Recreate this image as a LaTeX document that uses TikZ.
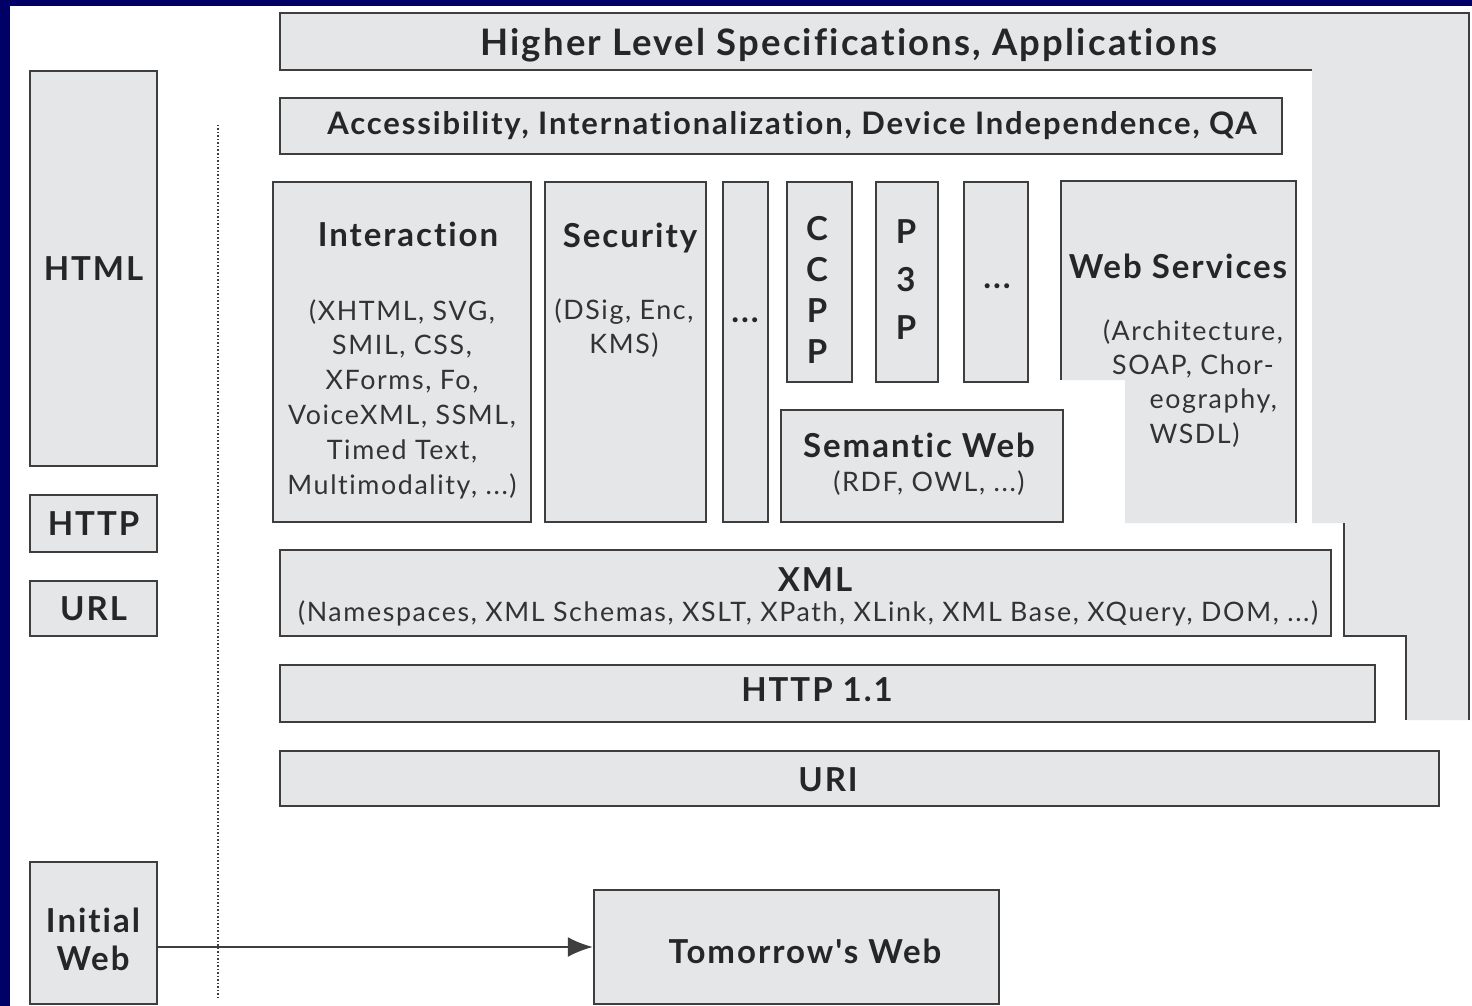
\documentclass[tikz,border=0pt]{standalone}
\usepackage{fontspec}
\defaultfontfeatures{}
\defaultfontfeatures[\rmfamily,\sffamily]{}
\setmainfont{Lato}[LetterSpace=6,Ligatures=NoCommon]
\usetikzlibrary{arrows.meta}
\definecolor{navy}{RGB}{0,0,102}
\definecolor{boxgray}{RGB}{229,230,232}
\definecolor{edge}{RGB}{62,62,62}
\tikzset{>={Latex[length=25pt,width=20pt]}}

\begin{document}
\begin{tikzpicture}[x=1pt,y=-1pt,
    ttl/.style={font=\bfseries\fontsize{33}{38}\selectfont,text=black!85},
    txt/.style={font=\fontsize{26.8}{34.8}\selectfont,align=center,text=black!80},
    box/.style={draw=edge,fill=boxgray,line width=2.5pt,inner sep=0pt,align=center,ttl}]
  % frame
  \useasboundingbox (0,0) rectangle (1472,1006);
  \fill[navy] (0,0) rectangle (1472,1006);
  \fill[white] (10,6) rectangle (1472,1006);

  % help functions
        % gray box from (x1,y1) to (x2,y2)
  \def\wbox(#1,#2,#3,#4,#5,#6){
    \node[box,minimum width={(#4-#2)*1pt},minimum height={(#5-#3)*1pt}]
      (#1) at ({(#2+#4)/2},{(#3+#5)/2}) {#6};}

  % stairs behind everything
  \fill[boxgray] (280,13) -- (1469,13) -- (1469,720) -- (1406,720) -- (1406,636)
    -- (1344,636) -- (1344,523) -- (1312,523) -- (1312,70) -- (280,70) -- cycle;
  \draw[edge,line width=2.5pt] (1312,70) -- (280,70) -- (280,13) -- (1469,13) -- (1469,720);
  \draw[edge,line width=2.5pt] (1344,523) -- (1344,636) -- (1406,636) -- (1406,720);
  \node[ttl,font=\bfseries\fontsize{36.5}{38}\selectfont] (hls) at (849,45) {Higher Level Specifications, Applications};

  % web services (notched)
  \fill[boxgray] (1061,181) -- (1296,181) -- (1296,523) -- (1125,523) -- (1125,380) -- (1061,380) -- cycle;
  \draw[edge,line width=2.5pt] (1061,380) -- (1061,181) -- (1296,181) -- (1296,523);
  \node[ttl] (wsT) at (1178,266) {Web Services};
  \node[txt] (wsA) at (1193,349) {(Architecture,\\SOAP, Chor-};
  \node[txt,align=left,anchor=west] (wsB) at (1146,418) {eography,\\WSDL)};

  % left column
  \wbox(html,30,71,157,466,HTML)
  \wbox(http,30,495,157,552,HTTP)
  \wbox(url,30,581,157,636,URL)
  \wbox(iw,30,862,157,1004,)
  \node[ttl,align=center] (iwT) at (93,939) {Initial\\Web};
  \draw[edge,dotted,line width=1.5pt] (218,125) -- (218,1000);

  % layers
  \wbox(acc,280,98,1282,154,)
  \node[ttl,font=\bfseries\fontsize{31}{34}\selectfont] (accT) at (792,126) {Accessibility, Internationalization, Device Independence, QA};

  \wbox(inter,273,182,531,522,)
  \node[ttl] (interT) at (408,234) {Interaction};
  \node[txt] (interB) at (402,399) {(XHTML, SVG,\\SMIL, CSS,\\XForms, Fo,\\VoiceXML, SSML,\\Timed Text,\\Multimodality, ...)};

  \wbox(sec,545,182,706,522,)
  \node[ttl] (secT) at (630,238) {Security};
  \node[txt] (secB) at (624,328) {(DSig, Enc,\\KMS)};

  \wbox(dotsA,723,182,768,522,)
  \node[ttl] (dotsAT) at (745,320) {...};

  \wbox(ccpp,787,182,852,382,)
  \node[ttl,font=\bfseries\fontsize{33}{41}\selectfont,align=center] (ccppT) at (817,290) {C\\C\\P\\P};
  \wbox(ppp,876,182,938,382,)
  \node[ttl,font=\bfseries\fontsize{33}{48}\selectfont,align=center] (pppT) at (906,280) {P\\3\\P};
  \wbox(dotsB,964,182,1028,382,)
  \node[ttl] (dotsBT) at (997,286) {...};

  \wbox(sem,781,410,1063,522,)
  \node[ttl] (semT) at (919,445) {Semantic Web};
  \node[txt] (semB) at (929,483) {(RDF, OWL, ...)};

  \wbox(xml,280,550,1331,636,)
  \node[ttl] (xmlT) at (815,580) {XML};
  \node[txt] (xmlB) at (808,613) {(Namespaces, XML Schemas, XSLT, XPath, XLink, XML Base, XQuery, DOM, ...)};

  \wbox(http11,280,665,1375,722,)
  \node[ttl] (http11T) at (817,690) {HTTP 1.1};
  \wbox(uri,280,751,1439,806,)
  \node[ttl] (uriT) at (828,780) {URI};

  % tomorrow
  \wbox(tw,594,890,999,1004,)
  \node[ttl] (twT) at (805,951) {Tomorrow's Web};
  \draw[->,edge,line width=2pt] (iw.east |- tw.west) -- (tw.west);
\end{tikzpicture}
\end{document}
